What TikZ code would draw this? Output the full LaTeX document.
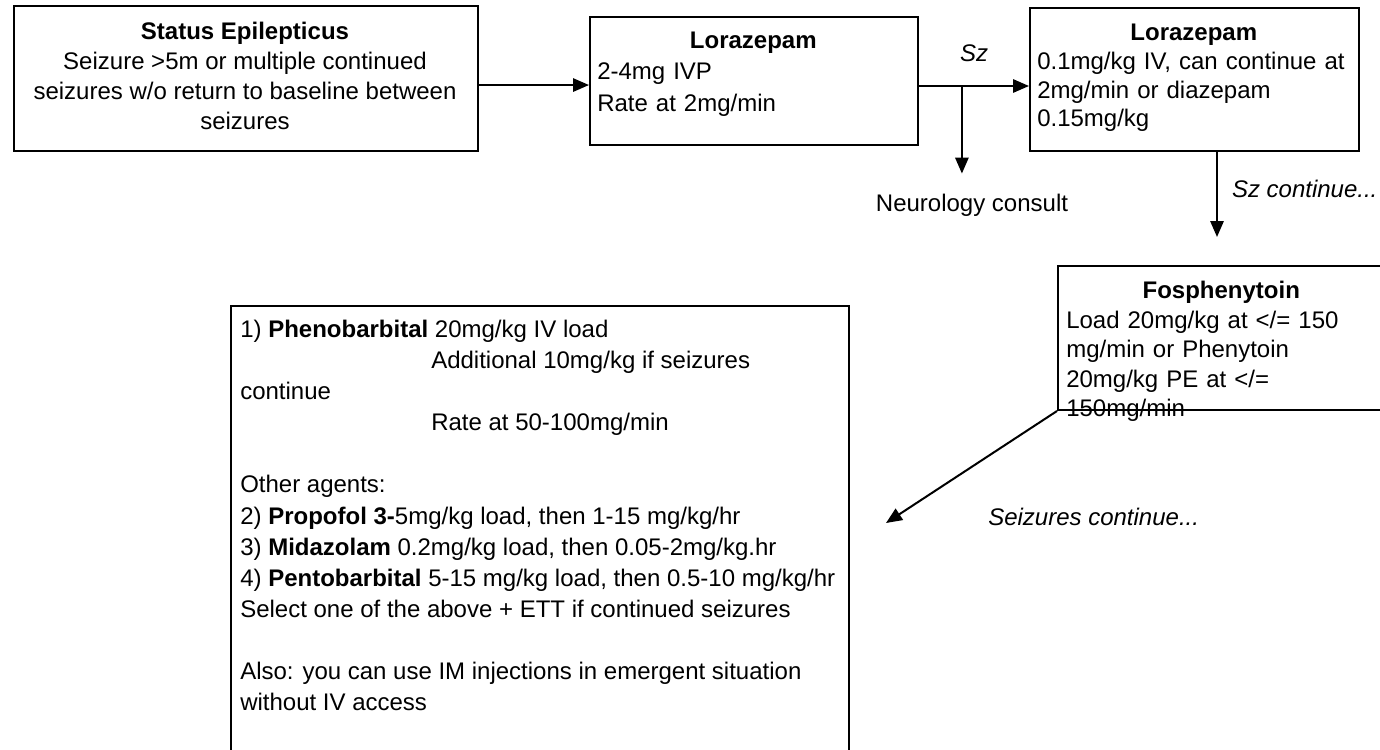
\documentclass[tikz,border=0pt]{standalone}
\usepackage{fontspec}
\setmainfont{Liberation Sans}
\usetikzlibrary{positioning,arrows.meta}

\begin{document}
\begin{tikzpicture}[x=0.75pt, y=-0.75pt,
    box/.style={rectangle, draw, line width=1.5pt, inner sep=0pt, anchor=north west},
    txt/.style={inner sep=0pt, align=left, font=\fontsize{18pt}{#1}\selectfont},
    txt/.default=22.5pt,
    note/.style={inner sep=0pt, font=\fontsize{18pt}{21pt}\selectfont\itshape},
    flow/.style={-{Triangle[length=12pt,width=10pt]}, line width=1.5pt}]
  \useasboundingbox (0,0) rectangle (1380,749);
  \clip (0,0) rectangle (1380,749);

  % boxes
  \node[box, minimum width=348pt, minimum height=108.75pt] (status) at (13,5) {};
  \node[box, minimum width=246pt, minimum height=96pt] (lz1) at (589,16) {};
  \node[box, minimum width=246.75pt, minimum height=107.25pt] (lz2) at (1029,7) {};
  \node[box, minimum width=246pt, minimum height=108pt] (fos) at (1057,265) {};
  \node[box, minimum width=463.5pt, minimum height=348.75pt] (pb) at (230,305) {};

  % box texts
  \node[txt=22.5pt, align=center, anchor=north] (status-t) at (245,21.5)
    {\textbf{Status Epilepticus}\\ Seizure >5m or multiple continued\\
     seizures w/o return to baseline between\\ seizures};
  \node[txt=23.6pt, text width=234pt, anchor=north west] (lz1-t) at (597,31.5)
    {\makebox[\hsize]{\textbf{Lorazepam}}\\ 2-4mg IVP\\ Rate at 2mg/min};
  \node[txt=21.5pt, text width=234.75pt, anchor=north west] (lz2-t) at (1037,24)
    {\makebox[\hsize]{\textbf{Lorazepam}}\\ 0.1mg/kg IV, can continue at\\
     2mg/min or diazepam\\ 0.15mg/kg};
  \node[txt=22.1pt, text width=232.5pt, anchor=north west] (fos-t) at (1066,281)
    {\makebox[\hsize]{\textbf{Fosphenytoin}}\\ Load 20mg/kg at </= 150\\
     mg/min or Phenytoin\\ 20mg/kg PE at </=\\ 150mg/min};
  \node[txt=23.3pt, anchor=north west] (pb-t) at (240,320)
    {1) \textbf{Phenobarbital} 20mg/kg IV load\\
     \hspace*{143.25pt}Additional 10mg/kg if seizures\\
     continue\\
     \hspace*{143.25pt}Rate at 50-100mg/min\\[23.3pt]
     Other agents:\\
     2) \textbf{Propofol 3-}5mg/kg load, then 1-15 mg/kg/hr\\
     3) \textbf{Midazolam} 0.2mg/kg load, then 0.05-2mg/kg.hr\\
     4) \textbf{Pentobarbital} 5-15 mg/kg load, then 0.5-10 mg/kg/hr\\
     Select one of the above + ETT if continued seizures\\[23.3pt]
     Also: you can use IM injections in emergent situation\\
     without IV access};

  \node[txt] (neuro) at (972,205) {Neurology consult};
  \node[note, anchor=west] (szc) at (988,517) {Seizures continue...};
  \coordinate (fosin) at (1217,237);
  \coordinate (pbin) at (886,523);

  % connectors
  \draw[flow] ([yshift=-4.9pt]status.east) -- ([yshift=-4.9pt]status.east -| lz1.west);
  \draw[flow] ([yshift=-3.75pt]lz1.east) -- ([yshift=-3.75pt]lz1.east -| lz2.west)
    node[note, midway, above=17.5pt] {Sz} coordinate[pos=0.39] (jn);
  \draw[flow] (jn) -- ([yshift=15pt]jn |- neuro.north);
  \draw[flow] (lz2.south -| fosin) -- (fosin)
    node[note, pos=0.44, right=10.5pt] {Sz continue...};
  \draw[flow] (fos.south west) -- (pbin);
\end{tikzpicture}
\end{document}
